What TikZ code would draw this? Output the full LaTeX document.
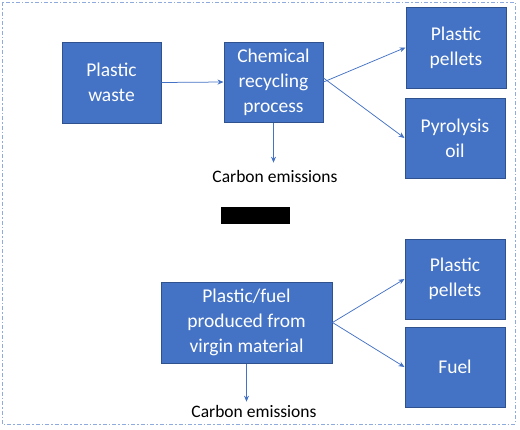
\documentclass[tikz,border=0pt]{standalone}
\usepackage{fontspec}
\setmainfont{Carlito}
\usetikzlibrary{arrows.meta}
\definecolor{boxfill}{HTML}{4472C4}
\definecolor{boxline}{HTML}{2F528F}
\definecolor{arrcol}{HTML}{4472C4}
\definecolor{framecol}{HTML}{8FAADC}
\tikzset{
  procbox/.style={draw=boxline, line width=1pt, fill=boxfill, text=white,
    align=center, font=\fontsize{19.5}{25}\selectfont, inner sep=0pt},
  arr/.style={draw=arrcol, line width=0.75pt, -{Stealth[length=6pt,width=5pt]}},
  emis/.style={font=\fontsize{17.5}{21}\selectfont, inner xsep=0pt, text=black},
  redact/.style={fill=black, draw=none, inner sep=0pt},
  framebox/.style={draw=framecol, line width=1pt, dash pattern=on 4pt off 2pt on 1.5pt off 2pt}
}
\begin{document}
\begin{tikzpicture}[x=1pt, y=-1pt]
\useasboundingbox (0,0) rectangle (520,429);
\draw[framebox] (2,2) rectangle (515,424);

\node[procbox, minimum width=99pt, minimum height=81pt] (waste) at (111.5,82.5) {Plastic\\waste};
\node[procbox, minimum width=99pt, minimum height=80pt] (chem) at (273.5,82) {Chemical\\recycling\\process};
\node[procbox, minimum width=100pt, minimum height=81pt] (pel1) at (456,47.5) {Plastic\\pellets};
\node[procbox, minimum width=100pt, minimum height=80pt] (pyro) at (455,138) {Pyrolysis\\oil};
\node[emis, inner ysep=7pt] (c1) at (275,176) {Carbon emissions};

\node[redact, minimum width=69pt, minimum height=17pt] (blk) at (255.5,215.5) {};

\node[procbox, minimum width=171pt, minimum height=81pt] (virgin) at (246.5,322.5) {Plastic/fuel\\produced from\\virgin material};
\node[procbox, minimum width=100pt, minimum height=80pt] (pel2) at (455,279) {Plastic\\pellets};
\node[procbox, minimum width=100pt, minimum height=80pt] (fuel) at (455,367) {Fuel};
\node[emis, inner ysep=3pt] (c2) at (254,411) {Carbon emissions};

\draw[arr] (waste.east) -- (chem.west);
\draw[arr] (chem.east) -- (pel1.west);
\draw[arr] ([yshift=4pt]chem.east) -- (pyro.west);
\draw[arr] (chem.south) -- (chem.south |- c1.north);

\draw[arr] (virgin.east) -- (pel2.west);
\draw[arr] (virgin.east) -- (fuel.west);
\draw[arr] (virgin.south) -- (virgin.south |- c2.north);
\end{tikzpicture}
\end{document}
